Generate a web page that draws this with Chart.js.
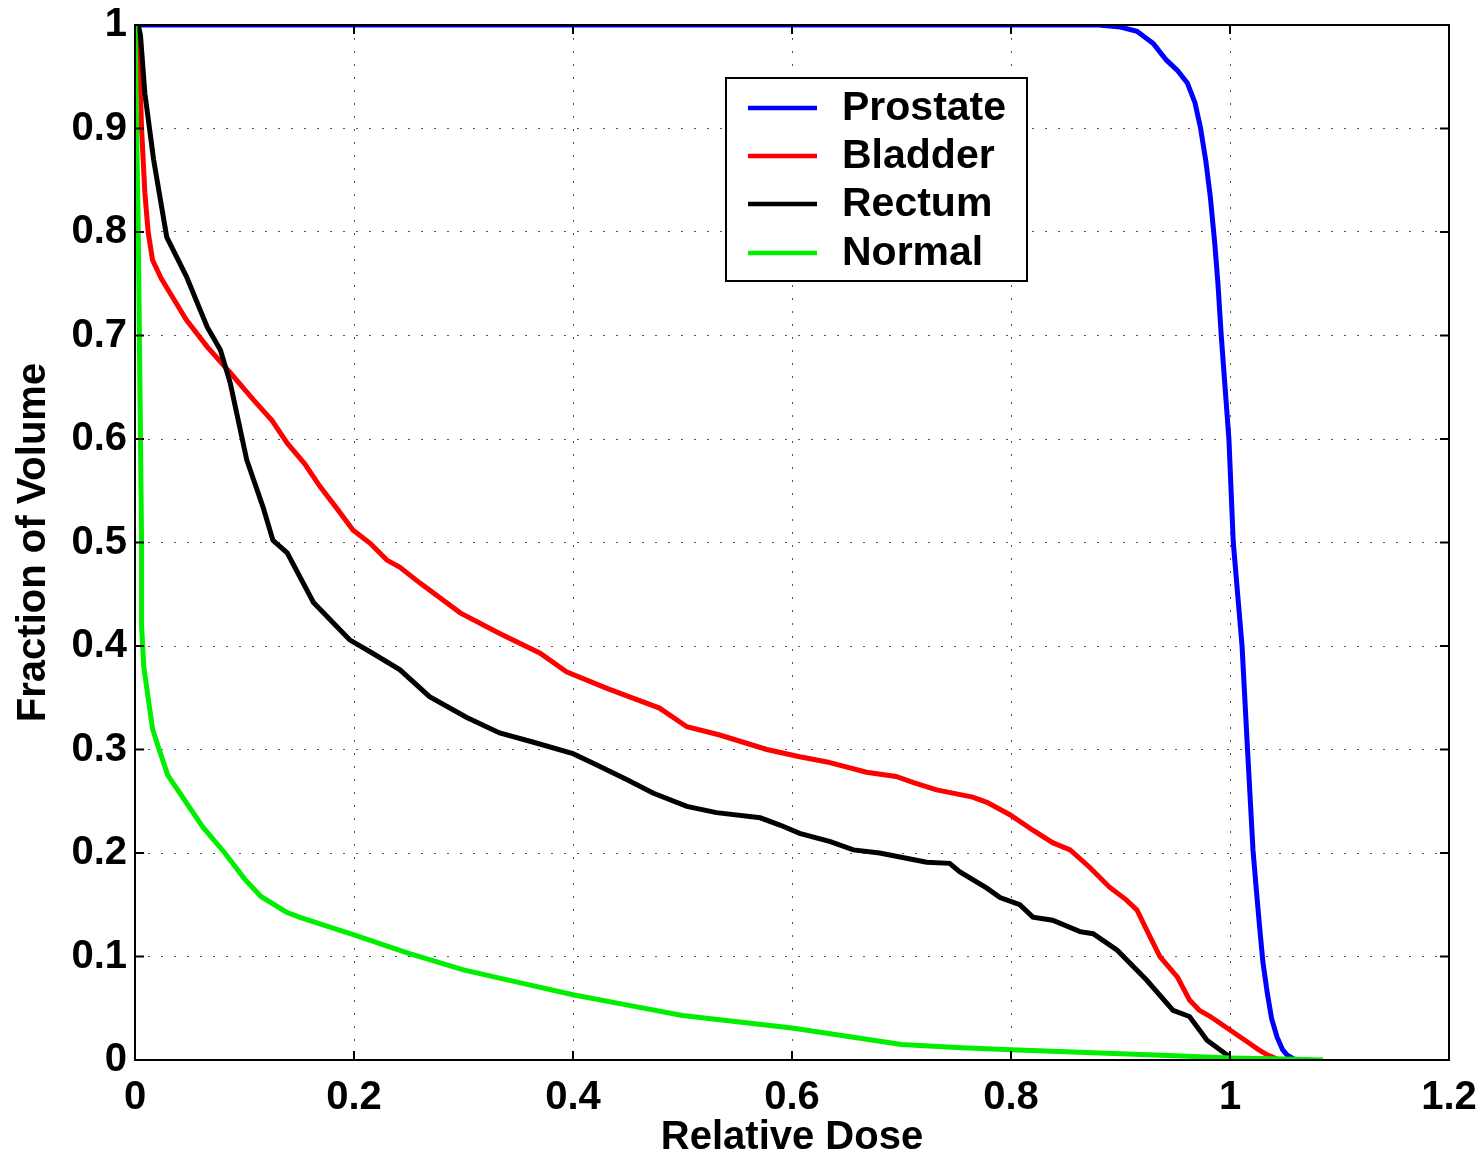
<!DOCTYPE html>
<html>
<head>
<meta charset="utf-8">
<script src="https://cdn.jsdelivr.net/npm/chart.js@4.4.0/dist/chart.umd.min.js"></script>
<style>
  html, body { margin: 0; padding: 0; background: #fff; }
  #wrap { width: 1484px; height: 1159px; }
</style>
</head>
<body>
<div id="wrap"><canvas id="myChart" width="1484" height="1159"></canvas></div>
<script>
// DVH curves
var xTicks = [0, 0.2, 0.4, 0.6, 0.8, 1, 1.2];
var yTicks = [0, 0.1, 0.2, 0.3, 0.4, 0.5, 0.6, 0.7, 0.8, 0.9, 1];
var names = ["Prostate", "Bladder", "Rectum", "Normal"];
var colors = ["#0000ff", "#ff0000", "#000000", "#00ee00"];

var doseProstate = [0, 0.6, 0.88, 0.90, 0.915, 0.93, 0.942, 0.952, 0.961, 0.968, 0.973, 0.978, 0.982, 0.986, 0.989, 0.992, 0.995, 0.999, 1.003, 1.007, 1.011, 1.016, 1.021, 1.024, 1.027, 1.030, 1.034, 1.038, 1.043, 1.048, 1.052, 1.058, 1.062];
var volProstate = [1, 1, 1, 0.998, 0.994, 0.982, 0.966, 0.956, 0.944, 0.925, 0.901, 0.868, 0.834, 0.79, 0.75, 0.70, 0.657, 0.6, 0.5, 0.45, 0.4, 0.3, 0.203, 0.165, 0.129, 0.095, 0.065, 0.04, 0.022, 0.01, 0.005, 0.001, 0];

var doseBladder = [0, 0.003, 0.004, 0.006, 0.009, 0.012, 0.016, 0.024, 0.032, 0.047, 0.066, 0.087, 0.108, 0.125, 0.139, 0.155, 0.169, 0.185, 0.199, 0.215, 0.230, 0.242, 0.260, 0.297, 0.333, 0.37, 0.394, 0.431, 0.479, 0.504, 0.534, 0.577, 0.607, 0.632, 0.668, 0.695, 0.711, 0.732, 0.765, 0.778, 0.799, 0.820, 0.838, 0.854, 0.872, 0.890, 0.905, 0.915, 0.927, 0.936, 0.952, 0.963, 0.972, 0.982, 1.0, 1.018, 1.026, 1.034, 1.045];
var volBladder = [1, 1, 0.97, 0.90, 0.838, 0.80, 0.773, 0.755, 0.741, 0.715, 0.689, 0.664, 0.638, 0.618, 0.596, 0.576, 0.554, 0.532, 0.512, 0.499, 0.483, 0.476, 0.461, 0.432, 0.412, 0.393, 0.375, 0.359, 0.34, 0.322, 0.314, 0.30, 0.293, 0.288, 0.278, 0.274, 0.268, 0.261, 0.254, 0.249, 0.237, 0.222, 0.21, 0.203, 0.186, 0.167, 0.155, 0.145, 0.119, 0.1, 0.08, 0.058, 0.048, 0.042, 0.029, 0.016, 0.01, 0.005, 0];

var doseRectum = [0, 0.003, 0.005, 0.009, 0.017, 0.029, 0.047, 0.066, 0.078, 0.087, 0.102, 0.117, 0.126, 0.139, 0.163, 0.196, 0.217, 0.242, 0.269, 0.303, 0.333, 0.364, 0.40, 0.418, 0.449, 0.473, 0.504, 0.531, 0.571, 0.589, 0.607, 0.635, 0.656, 0.68, 0.723, 0.744, 0.753, 0.778, 0.79, 0.808, 0.82, 0.838, 0.863, 0.875, 0.897, 0.924, 0.948, 0.963, 0.979, 0.997, 1.0];
var volRectum = [1, 1, 0.99, 0.934, 0.87, 0.795, 0.757, 0.708, 0.686, 0.654, 0.58, 0.534, 0.502, 0.49, 0.442, 0.406, 0.393, 0.377, 0.351, 0.331, 0.316, 0.307, 0.296, 0.287, 0.271, 0.258, 0.245, 0.239, 0.234, 0.227, 0.219, 0.211, 0.203, 0.2, 0.191, 0.19, 0.182, 0.166, 0.157, 0.15, 0.138, 0.135, 0.124, 0.122, 0.106, 0.077, 0.048, 0.042, 0.019, 0.005, 0];

var doseNormal = [0, 0.003, 0.005, 0.006, 0.006, 0.008, 0.012, 0.016, 0.022, 0.030, 0.046, 0.062, 0.082, 0.1, 0.115, 0.138, 0.15, 0.2, 0.25, 0.3, 0.35, 0.4, 0.45, 0.5, 0.55, 0.6, 0.65, 0.7, 0.75, 0.8, 0.85, 0.9, 0.95, 1.0, 1.05, 1.085];
var volNormal = [1, 0.8, 0.6, 0.5, 0.42, 0.38, 0.35, 0.32, 0.30, 0.275, 0.25, 0.225, 0.2, 0.175, 0.158, 0.143, 0.138, 0.121, 0.103, 0.087, 0.075, 0.063, 0.053, 0.043, 0.037, 0.031, 0.023, 0.015, 0.012, 0.01, 0.008, 0.006, 0.004, 0.002, 0.001, 0];

function pts(xs, ys) {
  return xs.map(function(x, i) { return {x: x, y: ys[i]}; });
}

var allDose = [doseProstate, doseBladder, doseRectum, doseNormal];
var allVol = [volProstate, volBladder, volRectum, volNormal];

var FONT = "'Liberation Sans', Arial, Helvetica, sans-serif";

// matlab style box, inward ticks and legend
var boxPlugin = {
  id: 'box',
  afterDraw: function(chart) {
    var c = chart.ctx, a = chart.chartArea;
    var xs = chart.scales.x, ys = chart.scales.y;
    c.save();
    c.strokeStyle = '#000';
    c.lineWidth = 2;
    xTicks.forEach(function(v) {
      var px = xs.getPixelForValue(v);
      c.beginPath();
      c.moveTo(px, a.bottom); c.lineTo(px, a.bottom - 9);
      c.moveTo(px, a.top); c.lineTo(px, a.top + 9);
      c.stroke();
    });
    yTicks.forEach(function(v) {
      var py = ys.getPixelForValue(v);
      c.beginPath();
      c.moveTo(a.left, py); c.lineTo(a.left + 9, py);
      c.moveTo(a.right, py); c.lineTo(a.right - 9, py);
      c.stroke();
    });
    c.strokeRect(a.left, a.top, a.right - a.left, a.bottom - a.top);

    // legend
    var lx = 726, ly = 78, lw = 301, lh = 203;
    c.fillStyle = '#fff';
    c.fillRect(lx, ly, lw, lh);
    c.lineWidth = 2;
    c.strokeRect(lx, ly, lw, lh);
    c.font = 'bold 41px ' + FONT;
    c.textBaseline = 'middle';
    c.textAlign = 'left';
    var rows = [108, 156, 204, 253];
    names.forEach(function(n, i) {
      c.strokeStyle = colors[i];
      c.lineWidth = 4.5;
      c.beginPath();
      c.moveTo(748, rows[i]); c.lineTo(817, rows[i]);
      c.stroke();
      c.fillStyle = '#000';
      c.fillText(n, 842, rows[i] + 1);
    });
    c.restore();
  }
};

var ctx = document.getElementById('myChart');
var myChart = new Chart(ctx, {
  type: 'scatter',
  data: {
    datasets: names.map(function(n, i) {
      return {
        label: n,
        data: pts(allDose[i], allVol[i]),
        showLine: true,
        borderColor: colors[i],
        backgroundColor: colors[i],
        borderWidth: 5,
        pointRadius: 0,
        tension: 0,
        order: 4 - i
      };
    })
  },
  plugins: [boxPlugin],
  options: {
    responsive: false,
    animation: false,
    layout: { padding: { left: 0, right: 35, top: 25, bottom: 0 } },
    plugins: {
      legend: { display: false },
      tooltip: { enabled: false }
    },
    scales: {
      x: {
        type: 'linear',
        min: 0, max: 1.2,
        afterFit: function(s) { s.height = 99; s.paddingLeft = 0; s.paddingRight = 0; },
        afterBuildTicks: function(s) { s.ticks = xTicks.map(function(v) { return {value: v}; }); },
        ticks: {
          color: '#000',
          padding: 14,
          font: { family: FONT, size: 40, weight: 'bold' },
          callback: function(v) { return String(v); }
        },
        grid: { color: '#555', lineWidth: 1, drawTicks: false },
        border: { display: false, dash: [2, 11] },
        title: {
          display: true,
          text: 'Relative Dose',
          color: '#000',
          padding: { top: 0, bottom: 0 },
          font: { family: FONT, size: 40, weight: 'bold', lineHeight: 1.05 }
        }
      },
      y: {
        type: 'linear',
        min: 0, max: 1,
        afterFit: function(s) { s.width = 135; s.paddingTop = 0; s.paddingBottom = 0; },
        afterBuildTicks: function(s) { s.ticks = yTicks.map(function(v) { return {value: v}; }); },
        ticks: {
          color: '#000',
          padding: 8,
          font: { family: FONT, size: 40, weight: 'bold' },
          callback: function(v) { return String(v); }
        },
        grid: { color: '#555', lineWidth: 1, drawTicks: false },
        border: { display: false, dash: [2, 11] },
        title: {
          display: true,
          text: 'Fraction of Volume',
          color: '#000',
          padding: { top: 10, bottom: 0 },
          font: { family: FONT, size: 40, weight: 'bold' }
        }
      }
    }
  }
});
</script>
</body>
</html>
